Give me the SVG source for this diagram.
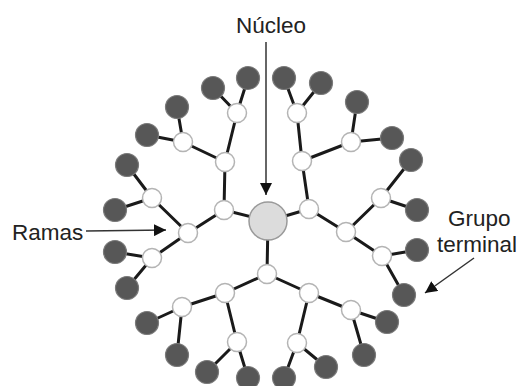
<svg xmlns="http://www.w3.org/2000/svg" width="528" height="386" viewBox="0 0 528 386">
  <style>
    .bond { stroke: #1a1a1a; stroke-width: 3; stroke-linecap: round; fill: none; }
    .core { fill: #dcdcdc; stroke: #9a9a9a; stroke-width: 1.5; }
    .branch { fill: #ffffff; stroke: #b4b4b4; stroke-width: 1.5; }
    .term { fill: #575757; stroke: #7a7a7a; stroke-width: 1.2; }
    .label { font-family: "Liberation Sans", Arial, sans-serif; font-size: 22.5px; fill: #222; }
    .pointer { stroke: #333; stroke-width: 1.5; fill: none; }
  </style>
  <defs>
    <marker id="arrowhead" viewBox="0 0 10 10" refX="10" refY="5" markerWidth="12" markerHeight="12" markerUnits="userSpaceOnUse" orient="auto">
      <path d="M0,0 L10,5 L0,10 z" fill="#111"/>
    </marker>
  </defs>

  <!-- bonds -->
  <g id="connectors">
    <path class="bond" d="M268,221 L224,210 M268,221 L309,209 M268,221 L267,274"/>
    <path class="bond" d="M224,210 L225,162 M224,210 L188,233 M309,209 L302,161 M309,209 L346,232 M267,274 L225,293 M267,274 L309,293"/>
    <path class="bond" d="M225,162 L237,113 M225,162 L183,142 M188,233 L152,198 M188,233 L152,258 M302,161 L297,113 M302,161 L351,142 M346,232 L381,198 M346,232 L382,256 M225,293 L182,307 M225,293 L237,342 M309,293 L351,310 M309,293 L297,343"/>
    <path class="bond" d="M237,113 L213,88 M237,113 L248,78 M183,142 L177,107 M183,142 L147,135 M152,198 L127,165 M152,198 L115,210 M152,258 L115,252 M152,258 L127,288 M297,113 L284,78 M297,113 L321,83 M351,142 L357,102 M351,142 L392,138 M381,198 L411,160 M381,198 L417,210 M382,256 L417,250 M382,256 L404,295 M182,307 L147,323 M182,307 L177,355 M237,342 L207,372 M237,342 L248,378 M351,310 L387,322 M351,310 L364,355 M297,343 L284,378 M297,343 L326,367"/>
    <!-- label pointers -->
    <line class="pointer" x1="266" y1="42" x2="266" y2="195" marker-end="url(#arrowhead)"/>
    <line class="pointer" x1="86" y1="231" x2="166" y2="230" marker-end="url(#arrowhead)"/>
    <line class="pointer" x1="474" y1="258" x2="425" y2="293" marker-end="url(#arrowhead)"/>
  </g>

  <g id="core"><circle class="core" cx="268" cy="221" r="19"/></g>

  <g id="gen1">
    <circle class="branch" cx="224" cy="210" r="9.5"/>
    <circle class="branch" cx="309" cy="209" r="9.5"/>
    <circle class="branch" cx="267" cy="274" r="9.5"/>
  </g>
  <g id="gen2">
    <circle class="branch" cx="225" cy="162" r="9.5"/>
    <circle class="branch" cx="188" cy="233" r="9.5"/>
    <circle class="branch" cx="302" cy="161" r="9.5"/>
    <circle class="branch" cx="346" cy="232" r="9.5"/>
    <circle class="branch" cx="225" cy="293" r="9.5"/>
    <circle class="branch" cx="309" cy="293" r="9.5"/>
  </g>
  <g id="gen3">
    <circle class="branch" cx="237" cy="113" r="9.5"/>
    <circle class="branch" cx="183" cy="142" r="9.5"/>
    <circle class="branch" cx="152" cy="198" r="9.5"/>
    <circle class="branch" cx="152" cy="258" r="9.5"/>
    <circle class="branch" cx="297" cy="113" r="9.5"/>
    <circle class="branch" cx="351" cy="142" r="9.5"/>
    <circle class="branch" cx="381" cy="198" r="9.5"/>
    <circle class="branch" cx="382" cy="256" r="9.5"/>
    <circle class="branch" cx="182" cy="307" r="9.5"/>
    <circle class="branch" cx="237" cy="342" r="9.5"/>
    <circle class="branch" cx="351" cy="310" r="9.5"/>
    <circle class="branch" cx="297" cy="343" r="9.5"/>
  </g>
  <g id="terminals">
    <circle class="term" cx="213" cy="88" r="11.5"/>
    <circle class="term" cx="248" cy="78" r="11.5"/>
    <circle class="term" cx="177" cy="107" r="11.5"/>
    <circle class="term" cx="147" cy="135" r="11.5"/>
    <circle class="term" cx="127" cy="165" r="11.5"/>
    <circle class="term" cx="115" cy="210" r="11.5"/>
    <circle class="term" cx="115" cy="252" r="11.5"/>
    <circle class="term" cx="127" cy="288" r="11.5"/>
    <circle class="term" cx="284" cy="78" r="11.5"/>
    <circle class="term" cx="321" cy="83" r="11.5"/>
    <circle class="term" cx="357" cy="102" r="11.5"/>
    <circle class="term" cx="392" cy="138" r="11.5"/>
    <circle class="term" cx="411" cy="160" r="11.5"/>
    <circle class="term" cx="417" cy="210" r="11.5"/>
    <circle class="term" cx="417" cy="250" r="11.5"/>
    <circle class="term" cx="404" cy="295" r="11.5"/>
    <circle class="term" cx="147" cy="323" r="11.5"/>
    <circle class="term" cx="177" cy="355" r="11.5"/>
    <circle class="term" cx="207" cy="372" r="11.5"/>
    <circle class="term" cx="248" cy="378" r="11.5"/>
    <circle class="term" cx="387" cy="322" r="11.5"/>
    <circle class="term" cx="364" cy="355" r="11.5"/>
    <circle class="term" cx="284" cy="378" r="11.5"/>
    <circle class="term" cx="326" cy="367" r="11.5"/>
  </g>

  <g id="labels">
    <text class="label" x="271" y="33" text-anchor="middle">Núcleo</text>
    <text class="label" x="12" y="240">Ramas</text>
    <text class="label" x="448" y="226">Grupo</text>
    <text class="label" x="437" y="252">terminal</text>
  </g>
</svg>
